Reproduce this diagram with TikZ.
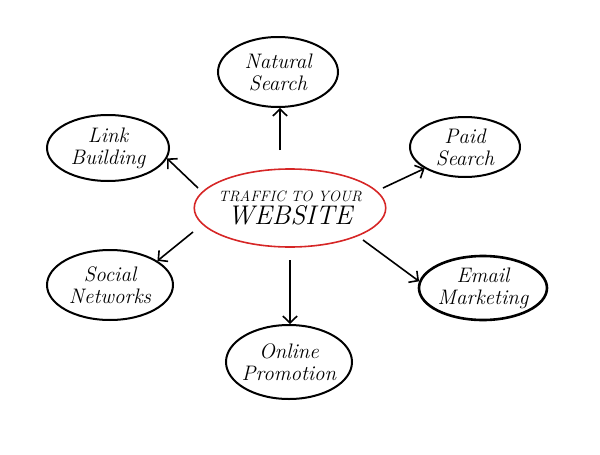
\documentclass[tikz,border=0pt]{standalone}
\usepackage{fontspec}
\usepackage{tikz}
\usetikzlibrary{shapes.geometric,arrows.meta}

\definecolor{hubred}{RGB}{214,38,38}

\begin{document}
\begin{tikzpicture}[
  x=1pt,
  y=-1pt,
]

  \tikzstyle{topicnode}=[draw,ellipse,line width=2pt,inner sep=-4pt,align=center,font={\itshape\fontsize{21}{22}\selectfont}]
  \tikzstyle{hubnode}=[draw=hubred,ellipse,line width=1.6pt,inner sep=-4pt,align=center]
  \tikzstyle{pointer}=[draw,line width=1.6pt,-{Straight Barb[length=2.4mm,width=5mm]}]

  \useasboundingbox (0,0) rectangle (600,455);

  % nodes
  \node[hubnode,minimum width=186pt,minimum height=78pt] (hub) at (290,208)
    {{\itshape\fontsize{15}{16}\selectfont TRAFFIC TO YOUR}\\[3pt]{\itshape\fontsize{27}{28}\selectfont WEBSITE}};

  \node[topicnode,minimum width=120pt,minimum height=70pt] (natural) at (278,72) {Natural\\Search};
  \node[topicnode,minimum width=122pt,minimum height=66pt] (link) at (108,148) {Link\\Building};
  \node[topicnode,minimum width=110pt,minimum height=60pt] (paid) at (465,147) {Paid\\Search};
  \node[topicnode,minimum width=126pt,minimum height=70pt] (social) at (110,285) {Social\\Networks};
  \node[topicnode,line width=2.6pt,minimum width=128pt,minimum height=64pt] (email) at (483,288) {Email\\Marketing};
  \node[topicnode,minimum width=126pt,minimum height=74pt] (online) at (289,362) {Online\\Promotion};

  % tails of the pointers
  \coordinate (tnatural) at (280,150);
  \coordinate (tlink) at (198,188);
  \coordinate (tpaid) at (383,188);
  \coordinate (tsocial) at (193,232);
  \coordinate (temail) at (363,240);
  \coordinate (tonline) at (290,260);

  % pointers
  \draw[pointer] (tnatural) -- (natural.south -| tnatural);
  \draw[pointer] (tlink) -- (link.-10);
  \draw[pointer] (tpaid) -- (paid.-152);
  \draw[pointer] (tsocial) -- (social.27);
  \draw[pointer] (temail) -- (email.174);
  \draw[pointer] (tonline) -- (online.north -| tonline);

\end{tikzpicture}
\end{document}
